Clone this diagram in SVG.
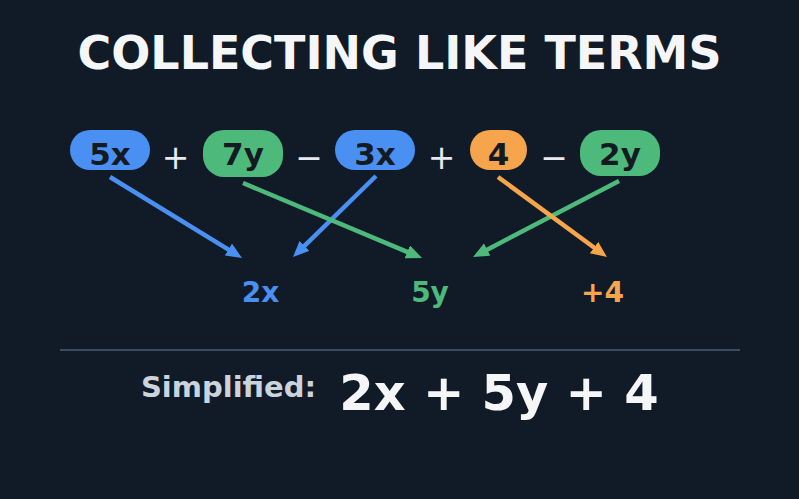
<svg xmlns="http://www.w3.org/2000/svg" width="799" height="499" viewBox="0 0 799 499">
<style>
text{font-family:"DejaVu Sans","Noto Sans",sans-serif;font-weight:bold;text-anchor:middle}
.title{font-size:46px;fill:#f5f6f8}
.term{font-size:31px;fill:#141a22}
.op{font-size:33px;font-weight:normal;fill:#e6e9ee}
.res{font-size:28px}
.blue{fill:#4a8ff2}
.green{fill:#4dba7c}
.orange{fill:#f6a54c}
.lb{stroke:#4a8ff2}
.lg{stroke:#4dba7c}
.lo{stroke:#f6a54c}
.conn line{stroke-width:4.5;fill:none}
</style>
<defs>
<marker id="ab" markerUnits="userSpaceOnUse" viewBox="0 0 16 14" markerWidth="16" markerHeight="14" refX="5" refY="7" orient="auto"><path d="M0,0 L16,7 L0,14 z" fill="#4a8ff2"/></marker>
<marker id="ag" markerUnits="userSpaceOnUse" viewBox="0 0 16 14" markerWidth="16" markerHeight="14" refX="5" refY="7" orient="auto"><path d="M0,0 L16,7 L0,14 z" fill="#4dba7c"/></marker>
<marker id="ao" markerUnits="userSpaceOnUse" viewBox="0 0 16 14" markerWidth="16" markerHeight="14" refX="5" refY="7" orient="auto"><path d="M0,0 L16,7 L0,14 z" fill="#f6a54c"/></marker>
</defs>
<rect width="799" height="499" fill="#111b27"/>
<text class="title" x="399.5" y="69">COLLECTING LIKE TERMS</text>

<g id="term-5x"><rect class="blue" x="70" y="130" width="80" height="40" rx="20"/><text class="term" x="110" y="165">5x</text></g>
<g id="op-plus1"><text class="op" x="175.5" y="169">+</text></g>
<g id="term-7y"><rect class="green" x="203" y="130" width="80" height="47" rx="21"/><text class="term" x="243" y="165">7y</text></g>
<g id="op-minus1"><text class="op" x="309" y="169">−</text></g>
<g id="term-3x"><rect class="blue" x="335" y="130" width="80" height="40" rx="20"/><text class="term" x="375" y="165">3x</text></g>
<g id="op-plus2"><text class="op" x="441.5" y="169">+</text></g>
<g id="term-4"><rect class="orange" x="470" y="130" width="57" height="40" rx="20"/><text class="term" x="498.5" y="165">4</text></g>
<g id="op-minus2"><text class="op" x="554" y="169">−</text></g>
<g id="term-2y"><rect class="green" x="580" y="130" width="80" height="46" rx="21"/><text class="term" x="620" y="165">2y</text></g>

<g id="connectors" class="conn">
<line class="lb" x1="110" y1="177" x2="232.6" y2="252.2" marker-end="url(#ab)"/>
<line class="lb" x1="376" y1="176" x2="300.9" y2="249.3" marker-end="url(#ab)"/>
<line class="lg" x1="243" y1="183" x2="411.9" y2="253.8" marker-end="url(#ag)"/>
<line class="lg" x1="619" y1="181" x2="482.8" y2="251.9" marker-end="url(#ag)"/>
<line class="lo" x1="498" y1="177" x2="598.1" y2="250.5" marker-end="url(#ao)"/>
</g>

<g id="result-2x"><text class="res blue" x="260.5" y="302">2x</text></g>
<g id="result-5y"><text class="res green" x="430" y="302">5y</text></g>
<g id="result-4"><text class="res orange" x="602.5" y="302">+4</text></g>

<line x1="60" y1="350" x2="740" y2="350" stroke="#3a4d5c" stroke-width="2"/>
<g id="simplified">
<text x="228.5" y="397" style="font-size:29px;fill:#cbd3dc">Simplified:</text>
<text x="499" y="410" style="font-size:49.5px;fill:#f5f6f8">2x + 5y + 4</text>
</g>
</svg>
